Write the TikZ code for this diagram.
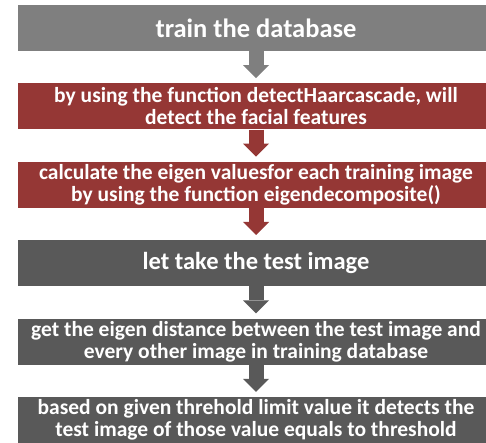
\documentclass[tikz,border=0pt]{standalone}
\usepackage{fontspec}
\setmainfont{Carlito}
\usetikzlibrary{positioning,arrows.meta}
\definecolor{stepgray}{HTML}{7F7F7F}
\definecolor{stepred}{HTML}{953735}
\definecolor{stepdark}{HTML}{595959}
\tikzset{
  stepbox/.style={rectangle, minimum width=476pt, minimum height=46pt,
    inner sep=0pt, align=center, text=white,
    font=\fontsize{21.5}{22}\selectfont\bfseries},
  flow/.style={line width=15pt,
    -{Triangle[width=26pt,length=13pt,line width=0pt]}}
}
\begin{document}
\begin{tikzpicture}
      \useasboundingbox (0pt,0pt) rectangle (486pt,443pt);
      \node[stepbox, fill=stepgray, font=\fontsize{26.5}{28}\selectfont\bfseries]
        (0) at (256pt,415pt) {train the database};
      \node[stepbox, fill=stepred, below=32pt of 0] (1)
        {by using the function detectHaarcascade, will\\detect the facial features};
      \node[stepbox, fill=stepred, below=32pt of 1] (2)
        {calculate the eigen valuesfor each training image\\by using the function eigendecomposite()};
      \node[stepbox, fill=stepdark, below=32pt of 2, font=\fontsize{24.5}{26}\selectfont\bfseries]
        (3) {let take the test image};
      \node[stepbox, fill=stepdark, below=32pt of 3] (4)
        {get the eigen distance between the test image and\\every other image in training database};
      \node[stepbox, fill=stepdark, below=32pt of 4] (5)
        {based on given threhold limit value it detects the\\test image of those value equals to threshold};
      \begin{scope}[flow]
        \draw[stepgray] (0.south) to ([yshift=5pt]1.north);
        \draw[stepred] (1.south) to ([yshift=5pt]2.north);
        \draw[stepred] (2.south) to ([yshift=5pt]3.north);
        \draw[stepdark] (3.south) to ([yshift=5pt]4.north);
        \draw[stepdark] (4.south) to ([yshift=5pt]5.north);
      \end{scope}
    \end{tikzpicture}
\end{document}
